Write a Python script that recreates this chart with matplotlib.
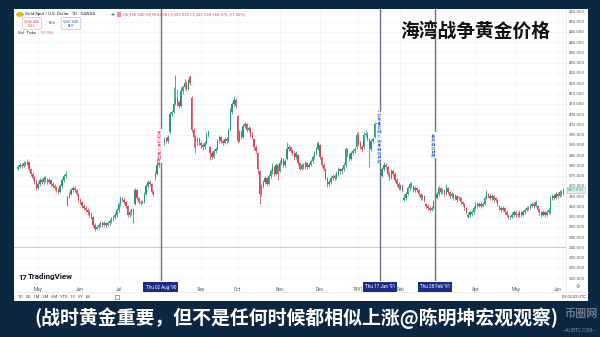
import numpy as np
import pandas as pd
import matplotlib
matplotlib.use("Agg")
import matplotlib.pyplot as plt
import matplotlib.transforms as mtransforms
from matplotlib.patches import Rectangle, Circle

plt.rcParams['font.family'] = ['Roboto', 'Noto Sans CJK SC', 'DejaVu Sans']

# ---------------- data: XAU/USD daily candles, Apr 1990 - Jun 1991 ----------------
START, END = '1990-04-16', '1991-06-06'

OPEN = [
    378, 379, 380, 379.5, 381, 380.5, 381.5, 378, 376, 374, 372,
    369, 371, 373, 372, 374, 373, 372, 373, 371, 370, 369, 368, 367, 370, 373, 375, 360.8, 364.5, 366, 368, 369, 368, 366,
    363, 362, 360, 359, 358, 357, 356, 355, 351, 349, 350, 351, 352, 351, 352, 351, 352, 353, 354, 355, 356,
    358, 361, 364, 363, 362, 360, 356, 357, 358, 361, 368, 364, 362, 361.5, 362, 366, 370, 372, 371, 367, 374, 376,
    380, 381, 392, 391, 393, 392, 396, 405, 406, 410, 413, 411, 409, 416, 418, 420, 417, 423, 413, 397, 394, 392, 393,
    391, 390, 389, 391, 395, 389, 386, 384, 387, 388, 392, 394, 392, 391, 393, 392, 397, 406, 410, 412,
    404, 392, 396, 394, 399, 400, 397, 398, 395, 393, 389, 386, 377, 366, 370, 372, 374, 371, 375, 377, 379, 376, 380,
    377, 381, 383, 380, 383, 388, 389, 387, 386, 384, 385, 381, 378, 380, 379, 381, 379, 380, 382, 384, 386, 388,
    390, 384, 380, 378, 374, 371, 372, 374, 375, 374, 376, 378, 377, 378, 380, 388, 385, 383, 386, 387, 389,
    395, 391, 389, 389, 395, 395.5, 393, 388, 392, 394, 400, 405, 379, 375, 378, 380, 379, 376, 374, 377, 376, 373, 371,
    369, 370, 363, 364, 366, 369, 371, 370, 368, 369, 368, 366, 364, 365, 361, 360, 359, 358, 359, 362,
    364, 366, 369, 367, 368, 366, 369, 367, 365, 366, 364, 365, 364.5, 364, 362, 361, 359, 355, 356, 356.5, 357,
    359, 361, 360, 361, 360, 361, 364, 366, 365, 364, 365, 364, 363, 360, 359, 358, 359, 357, 356, 355, 355, 356,
    357, 356.5, 356, 357, 356, 357, 358, 359.5, 359, 360, 361, 360, 360, 358, 357, 356, 357, 356, 357, 357, 364, 365, 364,
    366, 365, 367, 366,
]
HIGH = [
    380, 381, 381, 382, 382, 383, 382, 378.5, 376.5, 375, 373,
    372, 374, 374, 375, 375, 374, 374, 373.5, 372, 371, 370, 369, 371, 374, 376, 377, 365, 367, 369, 370, 370, 368.5, 366.5,
    364, 362.5, 361, 360, 359, 358, 357, 355.5, 352, 351, 352, 353, 353, 353, 352.5, 353, 354, 355, 356, 357, 359,
    362, 365, 364.5, 364, 362.5, 360.5, 358, 359, 359, 369, 368.5, 364.5, 363, 363, 367, 371, 373, 373, 371.5, 368, 377, 381.5,
    382, 396, 393, 394, 394, 395, 406, 407, 418, 424, 417, 412, 418, 419, 422, 421, 422, 424, 414, 398, 395, 394, 394,
    392, 391, 392, 396, 397, 389.5, 387, 388, 389, 393, 395, 394.5, 393, 394, 394, 398, 408, 411, 414, 413,
    404.5, 397, 397, 400, 401, 400.5, 399, 398.5, 396, 393.5, 390, 386.5, 377.5, 371, 373, 375, 374.5, 376, 378, 381, 379.5, 381, 380.5,
    382.5, 384, 383.5, 383, 391.5, 390, 389.5, 388, 387, 387, 385.5, 381.5, 381, 381, 382, 381.5, 381, 383, 385, 387, 389, 392,
    390.5, 384.5, 381, 378.5, 374.5, 373, 375, 376, 376, 377, 379, 378.5, 379, 381, 389, 388.5, 386, 387, 388, 389, 396,
    396, 392, 390, 396, 397, 396, 393.5, 393, 394, 401, 402, 407, 380, 379, 381.5, 381, 379.5, 377, 378, 378, 376.5, 374, 372,
    371, 371, 366, 367, 370, 372, 372, 370.5, 370, 369.5, 368.5, 366.5, 366, 365.5, 361.5, 361, 360, 360, 363, 365,
    367, 370, 369.5, 369, 368.5, 371, 369.5, 367.5, 367, 366.5, 366, 365.5, 365, 364.5, 362.5, 361.5, 359.5, 357, 358, 358, 360,
    362, 362, 362, 362, 362, 365, 368, 366.5, 366, 366, 365.5, 364.5, 363.5, 360.5, 360, 360, 359.5, 358, 356.5, 356, 357, 358,
    358, 357, 358, 357.5, 358, 359, 360, 360, 361, 362, 362, 363, 360.5, 359, 357.5, 358, 357.5, 358, 359, 365, 366, 366, 367,
    367, 368, 368, 369,
]
LOW = [
    377.5, 378.5, 378.5, 379, 379.5, 380, 377, 375, 373, 371, 368,
    368.5, 370, 371, 371, 372, 371, 371, 370, 369, 368, 367, 366, 366.5, 369, 372, 374, 360, 364, 365.5, 367, 367, 365, 362,
    361, 359, 358, 357, 356, 355, 354, 350, 348, 348.5, 349, 350, 350, 350.5, 350, 350.5, 351, 352, 353, 354, 355,
    357, 360, 362, 361, 359, 355, 355, 356, 352, 360.5, 363, 361, 360.5, 361, 361.5, 365.5, 369, 370, 366, 365, 373, 375.5,
    379, 380, 390, 390, 391, 391, 395.5, 404, 405.5, 409.5, 409, 408, 408.5, 415, 417, 416, 416.5, 419, 396, 389, 386, 390, 390,
    388.5, 387.5, 388, 390.5, 394, 382.5, 383, 383.5, 386, 387.5, 391, 391, 390, 390.5, 391, 391.5, 396.5, 405, 409, 408,
    391, 391.5, 393, 393.5, 398, 396, 396, 394, 393, 387.5, 386, 376, 361, 365, 369, 371, 370, 370.5, 374, 376, 375, 375.5, 373,
    376.5, 380, 379, 379, 382.5, 387, 386, 385, 382.5, 383, 380, 377.5, 377.5, 378, 378, 378, 378.5, 379.5, 381, 383, 385, 387.5,
    383, 379, 377, 373, 369.5, 370, 371, 373, 373, 373.5, 375, 376, 376, 377, 379, 384, 382, 382.5, 385, 386, 388,
    390, 388, 387, 388, 394, 392, 379, 387, 391, 393.5, 399, 401, 374, 374.5, 377, 378, 375, 373, 373.5, 375, 372, 370, 368,
    368, 367, 362.5, 363, 365.5, 368, 369, 367, 367, 367, 365, 363, 363, 362, 359, 358, 357.5, 357.5, 358.5, 361,
    363.5, 365, 366, 366, 365, 365.5, 366, 364, 364, 363, 363, 362, 363, 361, 360, 358, 356.5, 354.5, 355, 355.5, 356.5,
    358, 359, 359.5, 359, 359.5, 360.5, 363.5, 364, 363, 363, 362, 362, 360, 358, 357, 357.5, 356, 355, 354, 354, 354.5, 355,
    355, 355, 355, 355, 355.5, 356.5, 357.5, 358, 358.5, 359.5, 359, 359.5, 357, 356, 355, 355.5, 355, 355.5, 356.5, 356.5, 363, 363, 363.5,
    364, 364.5, 365, 365.5,
]
CLOSE = [
    379, 380, 379.5, 381, 380.5, 381.5, 378, 376, 374, 372, 369,
    371, 373, 372, 374, 373, 372, 373, 371, 370, 369, 368, 367, 370, 373, 375, 376, 364.5, 366, 368, 369, 368, 366, 363,
    362, 360, 359, 358, 357, 356, 355, 351, 349, 350, 351, 352, 351, 352, 351, 352, 353, 354, 355, 356, 358,
    361, 364, 363, 362, 360, 356, 357, 358, 356, 368, 364, 362, 361.5, 362, 366, 370, 372, 371, 367, 366, 376, 380,
    381, 392, 391, 393, 392, 394, 405, 406, 410, 413, 411, 409, 416, 418, 420, 417, 421, 420, 397, 394, 392, 393, 391,
    390, 389, 391, 395, 396, 386, 384, 387, 388, 392, 394, 392, 391, 393, 392, 397, 406, 410, 412, 409,
    392, 396, 394, 399, 400, 397, 398, 395, 394, 389, 387, 378, 366, 370, 372, 374, 371, 375, 377, 379, 376, 380, 376,
    381, 383, 380, 382, 388, 389, 387, 386, 384, 386, 381, 378, 380, 379, 381, 379, 380, 382, 384, 386, 388, 391,
    384, 380, 378, 374, 371, 372, 374, 375, 374, 376, 378, 377, 378, 380, 388, 385, 383, 386, 387, 388, 395,
    391, 389, 388, 395, 395.5, 393, 388, 392, 393, 400, 400.5, 402, 375, 378, 380, 379, 376, 374, 377, 376, 373, 371, 369,
    370, 368, 364, 366, 369, 371, 370, 368, 369, 368, 366, 364, 365, 363, 360, 359, 358, 359, 362, 364,
    366, 369, 367, 368, 366, 370, 367, 365, 366, 364, 365, 363, 364, 362, 361, 359, 357, 356, 357, 357, 359,
    361, 360, 361, 360, 361, 364, 367, 365, 364, 365, 363, 363, 361, 359, 358, 359, 357, 356, 355, 355, 356, 357,
    356, 356, 357, 356, 357, 358, 359, 359, 360, 361, 360, 362, 358, 357, 356, 357, 356, 357, 358, 364, 365, 364, 366,
    365, 367, 366, 368,
]

EVENT_DATES = ['1990-08-02', '1991-01-17', '1991-02-28']
EVENT_TAGS = ["Thu 02 Aug '90", "Thu 17 Jan '91", "Thu 28 Feb '91"]
EVENT_NOTES = ['伊拉克入侵科威特', '海湾战争爆发 沙漠风暴行动', '海湾战争结束']
EVENT_NOTE_PRICES = [389.5, 393.5, 390]
EVENT_NOTE_COLORS = ['#e0456a', '#2f55d4', '#2f55d4']
# month labels covered by the date tags
COVERED_MONTHS = ['1990-08', '1991-03']

PRICE_TICKS = list(range(325, 460, 5))
LAST_PRICE = 367.91

TITLE = '海湾战争黄金价格'
CAPTION = '(战时黄金重要，但不是任何时候都相似上涨@陈明坤宏观观察)'

UP, DOWN = '#1f9a78', '#e0454f'
NAVY = '#0c2742'

# ---------------- figure ----------------
W, H = 600, 337
fig = plt.figure(figsize=(W / 100, H / 100), dpi=100)
fig.patch.set_facecolor(NAVY)


def fx(px):
    return px / W


def fy(py):
    return 1 - py / H


# white chart panel
fig.add_artist(Rectangle((fx(14), fy(301)), fx(574), 292 / H, transform=fig.transFigure,
                         facecolor='white', edgecolor='none', zorder=0))

ax = fig.add_axes([fx(14), fy(281), fx(552), 272 / H])
ax.set_facecolor('white')
for s in ax.spines.values():
    s.set_visible(False)

dates = pd.bdate_range(START, END)
idx = np.arange(len(CLOSE))
o, h, l, c = (np.array(a, dtype=float) for a in (OPEN, HIGH, LOW, CLOSE))

ax.set_xlim(-2.2, 299.5)
ax.set_ylim(323.6, 456.2)

# month ticks at the first session of each month
months = pd.Series(dates.to_period('M'))
first = months.ne(months.shift()).to_numpy()
first[0] = False
tick_pos = idx[first]
tick_lab = []
for d in dates[first]:
    if d.strftime('%Y-%m') in COVERED_MONTHS:
        tick_lab.append('')
    elif d.month == 1:
        tick_lab.append('1991')
    else:
        tick_lab.append(d.strftime('%b'))
ax.set_xticks(tick_pos)
ax.set_xticklabels(tick_lab)
ax.tick_params(axis='x', length=0, pad=4.5, labelsize=3.4, labelcolor='#555b66')

ax.yaxis.tick_right()
ax.set_yticks(PRICE_TICKS)
ax.set_yticklabels([f'{v:.3f}' for v in PRICE_TICKS])
ax.tick_params(axis='y', length=0, pad=2.2, labelsize=3.2, labelcolor='#555b66')
for t in ax.get_yticklabels():
    t.set_horizontalalignment('left')

ax.grid(True, color='#f1f2f5', lw=0.5)
ax.set_axisbelow(True)
ax.axhline(340, color='#c9ccd4', lw=0.8, zorder=1)

# candles
col = np.where(c >= o, UP, DOWN)
ax.vlines(idx, l, h, colors=col, lw=0.55, zorder=3)
ax.bar(idx, np.maximum(np.abs(c - o), 0.35), bottom=np.minimum(o, c), width=0.72,
       color=col, linewidth=0, zorder=4)

# event lines, notes and date tags
trans = mtransforms.blended_transform_factory(ax.transData, fig.transFigure)
for d, tag, note, py, nc in zip(EVENT_DATES, EVENT_TAGS, EVENT_NOTES, EVENT_NOTE_PRICES, EVENT_NOTE_COLORS):
    i = dates.get_loc(pd.Timestamp(d))
    ax.axvline(i, color='#6b7384', lw=1.0, zorder=5)
    ax.text(i, py, note, rotation=90, ha='center', va='center', fontsize=3.0, color=nc,
            zorder=6, bbox=dict(boxstyle='square,pad=0.15', fc='white', ec='none'))
    ax.text(i, fy(287), tag, transform=trans, ha='center', va='center', fontsize=3.3,
            color='white', zorder=7, clip_on=False,
            bbox=dict(boxstyle='square,pad=0.45', fc='#1b2d86', ec='none'))

# last price tag on the price scale
ax.text(1.004, LAST_PRICE, f'{LAST_PRICE:.3f}', transform=ax.get_yaxis_transform(),
        ha='left', va='center', fontsize=3.2, color='#1f9a78', zorder=8, clip_on=False,
        bbox=dict(boxstyle='square,pad=0.3', fc='#dff3ec', ec='#7cc9b0', lw=0.4))

# pane separators
fig.add_artist(plt.Line2D([fx(566), fx(566)], [fy(9), fy(292)], transform=fig.transFigure,
                          color='#e3e5ea', lw=0.5))
fig.add_artist(plt.Line2D([fx(14), fx(588)], [fy(292), fy(292)], transform=fig.transFigure,
                          color='#e3e5ea', lw=0.5))

# header
fig.add_artist(Circle((fx(20), fy(14.5)), 0.006, transform=fig.transFigure,
                      facecolor='#f0b90b', edgecolor='#c99400', lw=0.3))
fig.text(fx(25), fy(14.5), 'Gold Spot / U.S. Dollar · 1D · OANDA', fontsize=3.2,
         color='#131722', va='center')
fig.add_artist(Circle((fx(113), fy(14.5)), 0.0028, transform=fig.transFigure,
                      facecolor='#1f9a78', edgecolor='none'))
fig.add_artist(Rectangle((fx(117), fy(17)), fx(4), 5 / H, transform=fig.transFigure,
                         facecolor='#f08aa0', edgecolor='none'))
fig.text(fx(123), fy(14.5), 'O5,350.530 H5,394.000 L5,333.350 C5,347.025 +68.575 (+1.30%)',
         fontsize=3.0, color='#e0454f', va='center')
fig.text(fx(32), fy(23.5), '5,346.440\nSELL', fontsize=2.6, color='#e0454f', ha='center',
         va='center', linespacing=1.1,
         bbox=dict(boxstyle='round,pad=0.5,rounding_size=0.6', fc='white', ec='#e8a0a6', lw=0.4))
fig.text(fx(52.5), fy(23.5), '80.6', fontsize=2.6, color='#444', ha='center', va='center')
fig.text(fx(71), fy(23.5), '5,347.040\nBUY', fontsize=2.6, color='#2f55d4', ha='center',
         va='center', linespacing=1.1,
         bbox=dict(boxstyle='round,pad=0.5,rounding_size=0.6', fc='white', ec='#9db0ea', lw=0.4))
fig.text(fx(18), fy(33.5), 'Vol · Ticks', fontsize=2.8, color='#131722', va='center')
fig.text(fx(40), fy(33.5), '100.904', fontsize=2.8, color='#e0708a', va='center')

# title
fig.text(fx(475), fy(31), TITLE, fontsize=13.5, fontweight='bold', color='#111111',
         ha='center', va='center', family=['Noto Sans CJK SC', 'DejaVu Sans'])

# bottom bar
fig.text(fx(18), fy(277), '17', fontsize=5.5, fontweight='bold', color='#131722', va='center')
fig.text(fx(28), fy(277), 'TradingView', fontsize=5.8, fontweight='bold', color='#131722', va='center')
fig.text(fx(18), fy(297), '1D   5D   1M   3M   6M   YTD   1Y   5Y   All', fontsize=2.9,
         color='#333a45', va='center')
fig.add_artist(Rectangle((fx(115), fy(299)), fx(4), 4 / H, transform=fig.transFigure,
                         facecolor='none', edgecolor='#555', lw=0.4))
fig.text(fx(586), fy(297), '03:02:32 UTC', fontsize=2.9, color='#333a45', ha='right', va='center')
fig.text(fx(578), fy(287), '⚙', fontsize=3.6, color='#555b66', ha='center', va='center',
         family=['DejaVu Sans'])

# caption
fig.text(fx(296), fy(318.5), CAPTION, fontsize=13.6, fontweight='bold', color='white',
         ha='center', va='center', family=['Noto Sans CJK SC', 'DejaVu Sans'])

# watermark
fig.text(fx(581), fy(314), '币圈网', fontsize=8, fontweight='bold', color='#c8ccd2', alpha=0.5,
         ha='center', va='center', family=['Noto Sans CJK SC', 'DejaVu Sans'])
fig.text(fx(580), fy(331), '—ALIBTC.COM—', fontsize=3.3, color='#c8ccd2', alpha=0.6,
         ha='center', va='center')

fig.savefig('out.png', dpi=100, facecolor=fig.get_facecolor())
